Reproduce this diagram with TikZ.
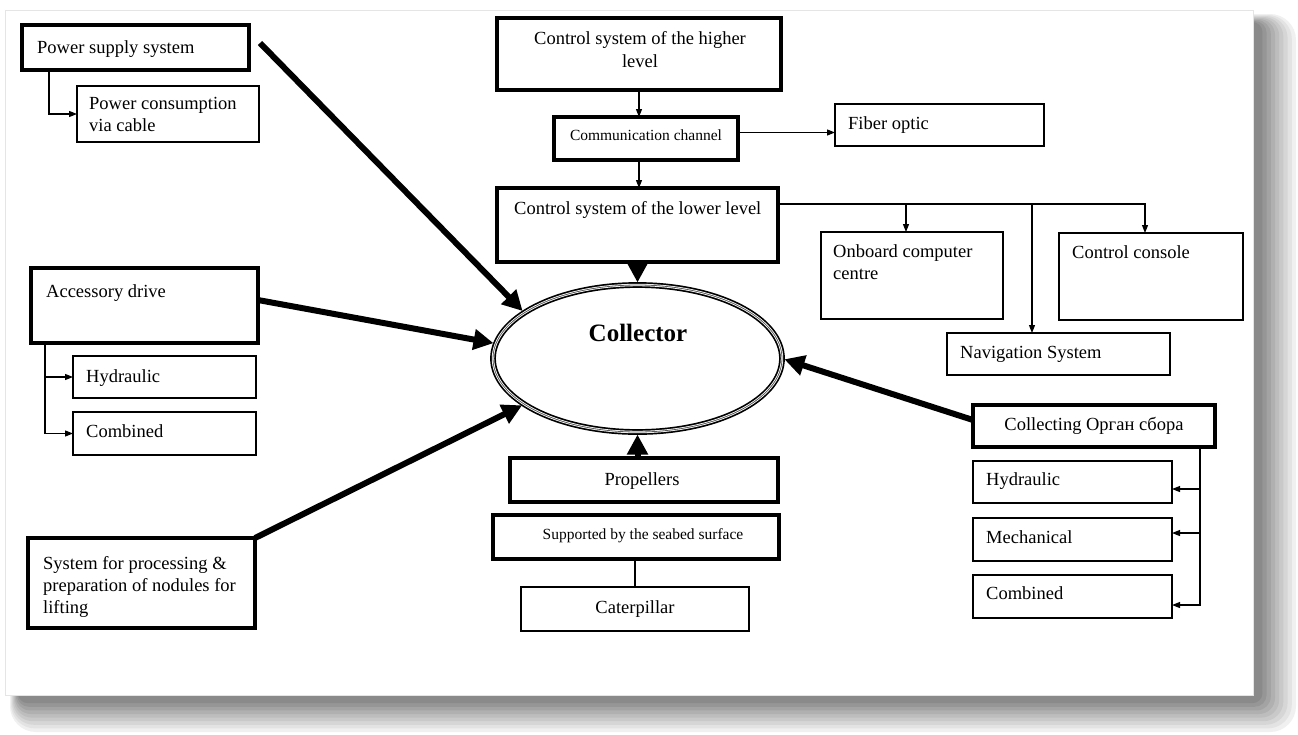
\documentclass[tikz,border=0pt]{standalone}
\usepackage{fontspec}
\setmainfont{Liberation Serif}
\usetikzlibrary{arrows.meta,shapes.geometric}
% box from corner (x1,y1) to corner (x2,y2): \mkbox{name}{style}{x1}{y1}{x2}{y2}
\newcommand{\mkbox}[6]{%
  \node[#2, minimum width={(#5)-(#3)}, minimum height={(#6)-(#4)}] (#1)
    at ({((#3)+(#5))/2},{((#4)+(#6))/2}) {};}
\begin{document}
\begin{tikzpicture}[x=1pt,y=-1pt,
  thickbox/.style={draw, line width=3.2pt, rectangle, inner sep=0pt, outer sep=0pt},
  thinbox/.style={draw, line width=1.2pt, rectangle, inner sep=0pt, outer sep=0pt},
  lbl/.style={inner sep=0pt, font=\fontsize{18.5}{22}\selectfont},
  small/.style={inner sep=0pt, font=\fontsize{15.5}{18}\selectfont},
  link/.style={line width=1.1pt, line join=miter, -{Triangle[length=8pt,width=6pt]}},
  plain/.style={line width=1.1pt},
  feed/.style={line width=6pt, shorten >=2.5pt, -{Triangle[length=20pt,width=20pt]}},
]
\useasboundingbox (0,0) rectangle (1298,734);
\fill[white] (0,0) rectangle (1298,734);

% page shadow
\foreach \k in {0,...,8} {
  \pgfmathtruncatemacro\shade{6+5*\k}
  \pgfmathsetmacro\rc{26-2*\k}
  \fill[black!\shade, rounded corners=\rc pt]
    ({10+\k},{14+\k}) rectangle ({1296-4.2*\k},{732-3.6*\k});
}
% page
\draw[black!10, fill=white, line width=1pt] (5,10) rectangle (1253,695);

% boxes
\mkbox{pss}{thickbox}{22}{25}{249}{70}
\mkbox{pcc}{thinbox}{77}{86}{259}{142}
\mkbox{hi}{thickbox}{497}{18}{781}{90}
\mkbox{cc}{thickbox}{554}{117}{738}{160}
\mkbox{fib}{thinbox}{835}{104}{1044}{146}
\mkbox{lo}{thickbox}{497}{188}{778}{262}
\mkbox{onb}{thinbox}{821}{232}{1003}{319}
\mkbox{con}{thinbox}{1059}{233}{1243}{320}
\mkbox{nav}{thinbox}{947}{333}{1170}{375}
\mkbox{acc}{thickbox}{31}{268}{258}{343}
\mkbox{hyd1}{thinbox}{73}{356}{256}{398}
\mkbox{com1}{thinbox}{73}{412}{256}{455}
\mkbox{sys}{thickbox}{28}{538}{255}{628}
\mkbox{prop}{thickbox}{510}{458}{778}{502}
\mkbox{sup}{thickbox}{493}{515}{779}{559}
\mkbox{cat}{thinbox}{521}{587}{749}{631}
\mkbox{col}{thickbox}{973}{405}{1215}{447}
\mkbox{hyd2}{thinbox}{973}{461}{1172}{503}
\mkbox{mec}{thinbox}{973}{518}{1172}{561}
\mkbox{com2}{thinbox}{973}{575}{1172}{618}

% central collector, triple outline
\node[ellipse, draw, line width=1.7pt, double=white, double distance=2.4pt,
      minimum width=289pt, minimum height=147pt, inner sep=0pt, outer sep=0pt]
      (coll) at (637.5,358.5) {};
\draw[black!65, line width=0.8pt] (coll.center) ellipse [x radius=144.5pt, y radius=73.5pt];
\node[font=\bfseries\fontsize{25}{30}\selectfont, inner sep=0pt, anchor=base]
      (coll-t) at (638,341) {Collector};

% labels
\node[lbl, anchor=base west] (pss-t) at (37,53.5) {Power supply system};
\node[lbl, anchor=north west, align=left] (pcc-t) at (89,97) {Power consumption\\via cable};
\node[lbl, align=center, font=\fontsize{18.5}{23}\selectfont] (hi-t) at (640,50) {Control system of the higher\\level};
\node[small, anchor=base] (cc-t) at (646,140.5) {Communication channel};
\node[lbl, anchor=base west] (fib-t) at (848,129.5) {Fiber optic};
\node[lbl, anchor=base west] (lo-t) at (514,214.5) {Control system of the lower level};
\node[lbl, anchor=north west, align=left] (onb-t) at (833,244.5) {Onboard computer\\centre};
\node[lbl, anchor=base west] (con-t) at (1072,258.5) {Control console};
\node[lbl, anchor=base west] (nav-t) at (960,358.5) {Navigation System};
\node[lbl, anchor=base west] (acc-t) at (46,297.5) {Accessory drive};
\node[lbl, anchor=base west] (hyd1-t) at (86,382.5) {Hydraulic};
\node[lbl, anchor=base west] (com1-t) at (86,437.5) {Combined};
\node[lbl, anchor=base] (col-t) at (1094,430.5) {Collecting Орган сбора};
\node[lbl, anchor=base west] (hyd2-t) at (986,485.5) {Hydraulic};
\node[lbl, anchor=base west] (mec-t) at (986,543) {Mechanical};
\node[lbl, anchor=base west] (com2-t) at (986,599.5) {Combined};
\node[lbl, anchor=base] (prop-t) at (642,485.5) {Propellers};
\node[small, anchor=base] (sup-t) at (643,539.5) {Supported by the seabed surface};
\node[lbl, anchor=base] (cat-t) at (635,613.5) {Caterpillar};
\node[lbl, anchor=north west, align=left] (sys-t) at (43,556) {System for processing \&\\preparation of nodules for\\lifting};

% thin connectors
\draw[link] ([xshift=27pt]pss.south west) |- (pcc.west);
\draw[link] (hi.south) -- (hi.south |- cc.north);
\coordinate (ccout) at ([yshift=6pt]cc.east);
\draw[link] (ccout) -- (ccout -| fib.west);
\draw[link] (hi.south |- cc.south) -- (hi.south |- lo.north);

\coordinate (j1) at (906,204);
\coordinate (j2) at (1032,204);
\coordinate (j3) at (1145,204);
\draw[link] (lo.east |- j3) -- (j3) -- (j3 |- con.north);
\draw[link] (j1) -- (j1 |- onb.north);
\draw[link] (j2) -- (j2 |- nav.north);

\coordinate (a0) at ([xshift=14pt]acc.south west);
\draw[link] (a0) |- (hyd1.west);
\draw[link] (a0) |- (com1.west);

\coordinate (c0) at ([xshift=-15pt]col.south east);
\coordinate (c1) at (1200,489);
\coordinate (c2) at (1200,533);
\coordinate (c3) at (1200,605);
\draw[link] (c0) -- (c3) -- (c3 -| com2.east);
\draw[link] (c1) -- (c1 -| hyd2.east);
\draw[link] (c2) -- (c2 -| mec.east);

\draw[plain] (sup.south -| cat.north) -- (cat.north);

% heavy arrows into the collector
\coordinate (f1) at ([xshift=11pt,yshift=4.5pt]pss.east);
\draw[feed] (f1) -- (coll.158);
\coordinate (f2) at ([yshift=5.5pt]acc.east);
\draw[feed] (f2) -- (coll.174.6);
\draw[feed] (sys.north east) -- (coll.202);
\coordinate (f4) at ([yshift=6pt]col.west);
\draw[feed] (f4) -- (coll.east);
\draw[feed] (lo.south) -- (coll.north);
\draw[feed] (coll.south |- prop.north) -- (coll.south);
\end{tikzpicture}
\end{document}
